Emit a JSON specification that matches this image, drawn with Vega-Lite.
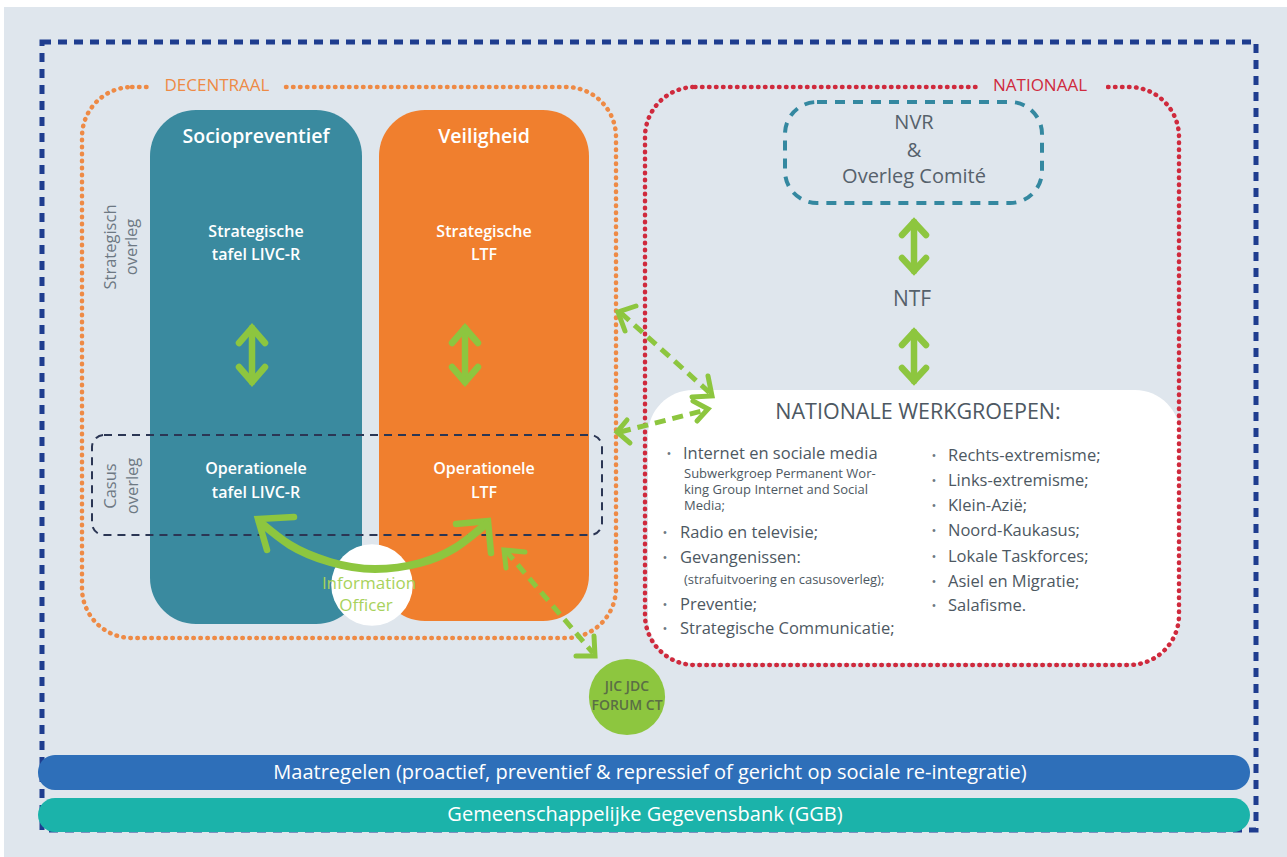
{
  "$schema": "https://vega.github.io/schema/vega-lite/v6.json",
  "autosize": {"type": "fit", "contains": "padding"},
  "width": 1287,
  "height": 857,
  "padding": 0,
  "background": "#ffffff",
  "config": {"view": {"stroke": null}, "font": "Open Sans"},
  "layer": [
    {
      "data": {"values": [{"x": 4, "x2": 1287, "y": 7, "y2": 857}]},
      "mark": {"type": "rect", "fill": "#dfe6ed"},
      "encoding": {
        "x": {"field": "x", "type": "quantitative", "scale": {"domain": [0, 1287], "nice": false, "zero": false}, "axis": null},
        "x2": {"field": "x2"},
        "y": {"field": "y", "type": "quantitative", "scale": {"domain": [0, 857], "reverse": true, "nice": false, "zero": false}, "axis": null},
        "y2": {"field": "y2"}
      }
    },
    {
      "data": {"values": [{"x": 42, "x2": 1256, "y": 42, "y2": 830}]},
      "mark": {"type": "rect", "fill": null, "stroke": "#1f3d8f", "strokeWidth": 5, "strokeDash": [9, 7]},
      "encoding": {
        "x": {"field": "x", "type": "quantitative", "axis": null},
        "x2": {"field": "x2"},
        "y": {"field": "y", "type": "quantitative", "axis": null},
        "y2": {"field": "y2"}
      }
    },
    {
      "data": {"values": [{"x": 648, "x2": 1180, "y": 390, "y2": 663}]},
      "mark": {"type": "rect", "fill": "#ffffff", "cornerRadius": 45},
      "encoding": {
        "x": {"field": "x", "type": "quantitative", "axis": null},
        "x2": {"field": "x2"},
        "y": {"field": "y", "type": "quantitative", "axis": null},
        "y2": {"field": "y2"}
      }
    },
    {
      "data": {"values": [{"x": 82, "x2": 616, "y": 87, "y2": 638}]},
      "mark": {"type": "rect", "fill": null, "stroke": "#ee8a45", "strokeWidth": 4.5, "strokeDash": [0.5, 6.5], "strokeCap": "round", "cornerRadius": 50},
      "encoding": {
        "x": {"field": "x", "type": "quantitative", "axis": null},
        "x2": {"field": "x2"},
        "y": {"field": "y", "type": "quantitative", "axis": null},
        "y2": {"field": "y2"}
      }
    },
    {
      "data": {"values": [{"x": 645, "x2": 1179, "y": 87, "y2": 665}]},
      "mark": {"type": "rect", "fill": null, "stroke": "#cf2a3d", "strokeWidth": 4.5, "strokeDash": [0.5, 6.5], "strokeCap": "round", "cornerRadius": 50},
      "encoding": {
        "x": {"field": "x", "type": "quantitative", "axis": null},
        "x2": {"field": "x2"},
        "y": {"field": "y", "type": "quantitative", "axis": null},
        "y2": {"field": "y2"}
      }
    },
    {
      "data": {"values": [{"x": 150, "x2": 282, "y": 78, "y2": 96}, {"x": 978, "x2": 1106, "y": 78, "y2": 96}]},
      "mark": {"type": "rect", "fill": "#dfe6ed"},
      "encoding": {
        "x": {"field": "x", "type": "quantitative", "axis": null},
        "x2": {"field": "x2"},
        "y": {"field": "y", "type": "quantitative", "axis": null},
        "y2": {"field": "y2"}
      }
    },
    {
      "data": {"values": [{"x": 150, "x2": 362, "y": 110, "y2": 624}]},
      "mark": {"type": "rect", "fill": "#3a8a9f", "cornerRadius": 46},
      "encoding": {
        "x": {"field": "x", "type": "quantitative", "axis": null},
        "x2": {"field": "x2"},
        "y": {"field": "y", "type": "quantitative", "axis": null},
        "y2": {"field": "y2"}
      }
    },
    {
      "data": {"values": [{"x": 379, "x2": 589, "y": 110, "y2": 621}]},
      "mark": {"type": "rect", "fill": "#f07f2e", "cornerRadius": 46},
      "encoding": {
        "x": {"field": "x", "type": "quantitative", "axis": null},
        "x2": {"field": "x2"},
        "y": {"field": "y", "type": "quantitative", "axis": null},
        "y2": {"field": "y2"}
      }
    },
    {
      "data": {"values": [{"x": 92, "x2": 602, "y": 435, "y2": 535}]},
      "mark": {"type": "rect", "fill": null, "stroke": "#2b3654", "strokeWidth": 2, "strokeDash": [8, 6], "cornerRadius": 12},
      "encoding": {
        "x": {"field": "x", "type": "quantitative", "axis": null},
        "x2": {"field": "x2"},
        "y": {"field": "y", "type": "quantitative", "axis": null},
        "y2": {"field": "y2"}
      }
    },
    {
      "data": {"values": [{"x": 785, "x2": 1042, "y": 102, "y2": 203}]},
      "mark": {"type": "rect", "fill": null, "stroke": "#3488a0", "strokeWidth": 4, "strokeDash": [10, 8], "cornerRadius": 32},
      "encoding": {
        "x": {"field": "x", "type": "quantitative", "axis": null},
        "x2": {"field": "x2"},
        "y": {"field": "y", "type": "quantitative", "axis": null},
        "y2": {"field": "y2"}
      }
    },
    {
      "data": {"values": [{"x": 38, "x2": 1250, "y": 755, "y2": 790}]},
      "mark": {"type": "rect", "fill": "#2e6fb9", "cornerRadius": 17},
      "encoding": {
        "x": {"field": "x", "type": "quantitative", "axis": null},
        "x2": {"field": "x2"},
        "y": {"field": "y", "type": "quantitative", "axis": null},
        "y2": {"field": "y2"}
      }
    },
    {
      "data": {"values": [{"x": 38, "x2": 1250, "y": 798, "y2": 832}]},
      "mark": {"type": "rect", "fill": "#1bb3aa", "cornerRadius": 17},
      "encoding": {
        "x": {"field": "x", "type": "quantitative", "axis": null},
        "x2": {"field": "x2"},
        "y": {"field": "y", "type": "quantitative", "axis": null},
        "y2": {"field": "y2"}
      }
    },
    {
      "data": {"values": [{"x": 372, "y": 585}]},
      "mark": {"type": "point", "filled": true, "fill": "#ffffff", "opacity": 1, "size": 6650, "shape": "circle", "strokeWidth": 0},
      "encoding": {
        "x": {"field": "x", "type": "quantitative", "axis": null},
        "y": {"field": "y", "type": "quantitative", "axis": null}
      }
    },
    {
      "data": {"values": [{"x": 627, "y": 697}]},
      "mark": {"type": "point", "filled": true, "fill": "#8dc63f", "opacity": 1, "size": 5800, "shape": "circle", "strokeWidth": 0},
      "encoding": {
        "x": {"field": "x", "type": "quantitative", "axis": null},
        "y": {"field": "y", "type": "quantitative", "axis": null}
      }
    },
    {
      "data": {"values": [
        {"g": "a1", "o": 1, "x": 252, "y": 328}, {"g": "a1", "o": 2, "x": 252, "y": 382},
        {"g": "a1t", "o": 1, "x": 239, "y": 343}, {"g": "a1t", "o": 2, "x": 252, "y": 328}, {"g": "a1t", "o": 3, "x": 265, "y": 343},
        {"g": "a1b", "o": 1, "x": 239, "y": 367}, {"g": "a1b", "o": 2, "x": 252, "y": 382}, {"g": "a1b", "o": 3, "x": 265, "y": 367},
        {"g": "a2", "o": 1, "x": 465, "y": 328}, {"g": "a2", "o": 2, "x": 465, "y": 382},
        {"g": "a2t", "o": 1, "x": 452, "y": 343}, {"g": "a2t", "o": 2, "x": 465, "y": 328}, {"g": "a2t", "o": 3, "x": 478, "y": 343},
        {"g": "a2b", "o": 1, "x": 452, "y": 367}, {"g": "a2b", "o": 2, "x": 465, "y": 382}, {"g": "a2b", "o": 3, "x": 478, "y": 367},
        {"g": "a3", "o": 1, "x": 914, "y": 222}, {"g": "a3", "o": 2, "x": 914, "y": 271},
        {"g": "a3t", "o": 1, "x": 902, "y": 235}, {"g": "a3t", "o": 2, "x": 914, "y": 222}, {"g": "a3t", "o": 3, "x": 926, "y": 235},
        {"g": "a3b", "o": 1, "x": 902, "y": 258}, {"g": "a3b", "o": 2, "x": 914, "y": 271}, {"g": "a3b", "o": 3, "x": 926, "y": 258},
        {"g": "a4", "o": 1, "x": 914, "y": 332}, {"g": "a4", "o": 2, "x": 914, "y": 381},
        {"g": "a4t", "o": 1, "x": 902, "y": 345}, {"g": "a4t", "o": 2, "x": 914, "y": 332}, {"g": "a4t", "o": 3, "x": 926, "y": 345},
        {"g": "a4b", "o": 1, "x": 902, "y": 368}, {"g": "a4b", "o": 2, "x": 914, "y": 381}, {"g": "a4b", "o": 3, "x": 926, "y": 368},
        {"g": "h1", "o": 1, "x": 267, "y": 550}, {"g": "h1", "o": 2, "x": 258, "y": 519}, {"g": "h1", "o": 3, "x": 294, "y": 517},
        {"g": "h2", "o": 1, "x": 456, "y": 524}, {"g": "h2", "o": 2, "x": 488, "y": 521}, {"g": "h2", "o": 3, "x": 491, "y": 553}
      ]},
      "mark": {"type": "line", "color": "#8dc63f", "strokeWidth": 6.5, "strokeCap": "round", "strokeJoin": "miter"},
      "encoding": {
        "x": {"field": "x", "type": "quantitative", "axis": null},
        "y": {"field": "y", "type": "quantitative", "axis": null},
        "detail": {"field": "g"},
        "order": {"field": "o", "type": "quantitative"}
      }
    },
    {
      "data": {"values": [
        {"o": 1, "x": 260, "y": 522}, {"o": 2, "x": 290, "y": 545}, {"o": 3, "x": 330, "y": 562},
        {"o": 4, "x": 375, "y": 569}, {"o": 5, "x": 420, "y": 563}, {"o": 6, "x": 455, "y": 548}, {"o": 7, "x": 486, "y": 524}
      ]},
      "mark": {"type": "line", "color": "#8dc63f", "strokeWidth": 8, "strokeCap": "round", "interpolate": "monotone"},
      "encoding": {
        "x": {"field": "x", "type": "quantitative", "axis": null},
        "y": {"field": "y", "type": "quantitative", "axis": null},
        "order": {"field": "o", "type": "quantitative"}
      }
    },
    {
      "data": {"values": [
        {"g": "d1", "o": 1, "x": 621, "y": 313}, {"g": "d1", "o": 2, "x": 710, "y": 393},
        {"g": "d2", "o": 1, "x": 620, "y": 432}, {"g": "d2", "o": 2, "x": 706, "y": 410},
        {"g": "d3", "o": 1, "x": 506, "y": 551}, {"g": "d3", "o": 2, "x": 593, "y": 653}
      ]},
      "mark": {"type": "line", "color": "#8dc63f", "strokeWidth": 5, "strokeDash": [11, 7]},
      "encoding": {
        "x": {"field": "x", "type": "quantitative", "axis": null},
        "y": {"field": "y", "type": "quantitative", "axis": null},
        "detail": {"field": "g"},
        "order": {"field": "o", "type": "quantitative"}
      }
    },
    {
      "data": {"values": [
        {"g": "e1", "o": 1, "x": 636, "y": 306}, {"g": "e1", "o": 2, "x": 618, "y": 312}, {"g": "e1", "o": 3, "x": 625, "y": 331},
        {"g": "e2", "o": 1, "x": 708, "y": 376}, {"g": "e2", "o": 2, "x": 712, "y": 396}, {"g": "e2", "o": 3, "x": 692, "y": 397},
        {"g": "e3", "o": 1, "x": 627, "y": 420}, {"g": "e3", "o": 2, "x": 617, "y": 432}, {"g": "e3", "o": 3, "x": 630, "y": 443},
        {"g": "e4", "o": 1, "x": 693, "y": 401}, {"g": "e4", "o": 2, "x": 708, "y": 409}, {"g": "e4", "o": 3, "x": 697, "y": 421},
        {"g": "e5", "o": 1, "x": 525, "y": 552}, {"g": "e5", "o": 2, "x": 504, "y": 550}, {"g": "e5", "o": 3, "x": 506, "y": 568},
        {"g": "e6", "o": 1, "x": 576, "y": 656}, {"g": "e6", "o": 2, "x": 595, "y": 656}, {"g": "e6", "o": 3, "x": 594, "y": 636}
      ]},
      "mark": {"type": "line", "color": "#8dc63f", "strokeWidth": 5, "strokeCap": "round"},
      "encoding": {
        "x": {"field": "x", "type": "quantitative", "axis": null},
        "y": {"field": "y", "type": "quantitative", "axis": null},
        "detail": {"field": "g"},
        "order": {"field": "o", "type": "quantitative"}
      }
    },
    {
      "data": {"values": [
        {"x": 256, "y": 137, "t": "Sociopreventief"},
        {"x": 484, "y": 137, "t": "Veiligheid"}
      ]},
      "mark": {"type": "text", "color": "#ffffff", "fontSize": 19.5, "fontWeight": 600, "align": "center", "baseline": "middle"},
      "encoding": {
        "x": {"field": "x", "type": "quantitative", "axis": null},
        "y": {"field": "y", "type": "quantitative", "axis": null},
        "text": {"field": "t"}
      }
    },
    {
      "data": {"values": [
        {"x": 256, "y": 232, "t": "Strategische"},
        {"x": 256, "y": 255, "t": "tafel LIVC-R"},
        {"x": 484, "y": 232, "t": "Strategische"},
        {"x": 484, "y": 255, "t": "LTF"},
        {"x": 256, "y": 469, "t": "Operationele"},
        {"x": 256, "y": 493, "t": "tafel LIVC-R"},
        {"x": 484, "y": 469, "t": "Operationele"},
        {"x": 484, "y": 493, "t": "LTF"}
      ]},
      "mark": {"type": "text", "color": "#ffffff", "fontSize": 16, "fontWeight": 600, "align": "center", "baseline": "middle"},
      "encoding": {
        "x": {"field": "x", "type": "quantitative", "axis": null},
        "y": {"field": "y", "type": "quantitative", "axis": null},
        "text": {"field": "t"}
      }
    },
    {
      "data": {"values": [
        {"x": 111, "y": 247, "t": "Strategisch"},
        {"x": 132, "y": 247, "t": "overleg"},
        {"x": 111, "y": 486, "t": "Casus"},
        {"x": 133, "y": 486, "t": "overleg"}
      ]},
      "mark": {"type": "text", "color": "#6d7883", "fontSize": 16.5, "angle": 270, "align": "center", "baseline": "middle"},
      "encoding": {
        "x": {"field": "x", "type": "quantitative", "axis": null},
        "y": {"field": "y", "type": "quantitative", "axis": null},
        "text": {"field": "t"}
      }
    },
    {
      "data": {"values": [{"x": 217, "y": 86, "t": "DECENTRAAL"}]},
      "mark": {"type": "text", "color": "#ee8a45", "fontSize": 17, "align": "center", "baseline": "middle"},
      "encoding": {
        "x": {"field": "x", "type": "quantitative", "axis": null},
        "y": {"field": "y", "type": "quantitative", "axis": null},
        "text": {"field": "t"}
      }
    },
    {
      "data": {"values": [{"x": 1040, "y": 86, "t": "NATIONAAL"}]},
      "mark": {"type": "text", "color": "#cf2a3d", "fontSize": 17, "align": "center", "baseline": "middle"},
      "encoding": {
        "x": {"field": "x", "type": "quantitative", "axis": null},
        "y": {"field": "y", "type": "quantitative", "axis": null},
        "text": {"field": "t"}
      }
    },
    {
      "data": {"values": [
        {"x": 914, "y": 123, "t": "NVR"},
        {"x": 914, "y": 151, "t": "&"},
        {"x": 914, "y": 177, "t": "Overleg Comité"}
      ]},
      "mark": {"type": "text", "color": "#56616b", "fontSize": 20, "align": "center", "baseline": "middle"},
      "encoding": {
        "x": {"field": "x", "type": "quantitative", "axis": null},
        "y": {"field": "y", "type": "quantitative", "axis": null},
        "text": {"field": "t"}
      }
    },
    {
      "data": {"values": [{"x": 912, "y": 300, "t": "NTF"}]},
      "mark": {"type": "text", "color": "#56616b", "fontSize": 21, "align": "center", "baseline": "middle"},
      "encoding": {
        "x": {"field": "x", "type": "quantitative", "axis": null},
        "y": {"field": "y", "type": "quantitative", "axis": null},
        "text": {"field": "t"}
      }
    },
    {
      "data": {"values": [{"x": 918, "y": 413, "t": "NATIONALE WERKGROEPEN:"}]},
      "mark": {"type": "text", "color": "#4d5862", "fontSize": 21.5, "align": "center", "baseline": "middle"},
      "encoding": {
        "x": {"field": "x", "type": "quantitative", "axis": null},
        "y": {"field": "y", "type": "quantitative", "axis": null},
        "text": {"field": "t"}
      }
    },
    {
      "data": {"values": [
        {"x": 683, "y": 454, "t": "Internet en sociale media"},
        {"x": 680, "y": 533, "t": "Radio en televisie;"},
        {"x": 680, "y": 558, "t": "Gevangenissen:"},
        {"x": 680, "y": 605, "t": "Preventie;"},
        {"x": 680, "y": 629, "t": "Strategische Communicatie;"},
        {"x": 948, "y": 456, "t": "Rechts-extremisme;"},
        {"x": 948, "y": 481, "t": "Links-extremisme;"},
        {"x": 948, "y": 506, "t": "Klein-Azië;"},
        {"x": 948, "y": 531, "t": "Noord-Kaukasus;"},
        {"x": 948, "y": 557, "t": "Lokale Taskforces;"},
        {"x": 948, "y": 582, "t": "Asiel en Migratie;"},
        {"x": 948, "y": 606, "t": "Salafisme."}
      ]},
      "mark": {"type": "text", "color": "#4d5862", "fontSize": 16.5, "align": "left", "baseline": "middle"},
      "encoding": {
        "x": {"field": "x", "type": "quantitative", "axis": null},
        "y": {"field": "y", "type": "quantitative", "axis": null},
        "text": {"field": "t"}
      }
    },
    {
      "data": {"values": [
        {"x": 684, "y": 474, "t": "Subwerkgroep Permanent Wor-"},
        {"x": 684, "y": 490, "t": "king Group Internet and Social"},
        {"x": 684, "y": 506, "t": "Media;"},
        {"x": 684, "y": 580, "t": "(strafuitvoering en casusoverleg);"}
      ]},
      "mark": {"type": "text", "color": "#4d5862", "fontSize": 13, "align": "left", "baseline": "middle"},
      "encoding": {
        "x": {"field": "x", "type": "quantitative", "axis": null},
        "y": {"field": "y", "type": "quantitative", "axis": null},
        "text": {"field": "t"}
      }
    },
    {
      "data": {"values": [
        {"x": 669, "y": 454}, {"x": 665, "y": 533}, {"x": 665, "y": 558}, {"x": 665, "y": 605}, {"x": 665, "y": 629},
        {"x": 934, "y": 456}, {"x": 934, "y": 481}, {"x": 934, "y": 506}, {"x": 934, "y": 531}, {"x": 934, "y": 557}, {"x": 934, "y": 582}, {"x": 934, "y": 606}
      ]},
      "mark": {"type": "text", "color": "#6d7883", "fontSize": 13, "align": "center", "baseline": "middle", "text": "•"},
      "encoding": {
        "x": {"field": "x", "type": "quantitative", "axis": null},
        "y": {"field": "y", "type": "quantitative", "axis": null}
      }
    },
    {
      "data": {"values": [
        {"x": 369, "y": 584, "t": "Information"},
        {"x": 366, "y": 606, "t": "Officer"}
      ]},
      "mark": {"type": "text", "color": "#a8d25c", "fontSize": 17, "align": "center", "baseline": "middle"},
      "encoding": {
        "x": {"field": "x", "type": "quantitative", "axis": null},
        "y": {"field": "y", "type": "quantitative", "axis": null},
        "text": {"field": "t"}
      }
    },
    {
      "data": {"values": [
        {"x": 627, "y": 687, "t": "JIC JDC"},
        {"x": 627, "y": 706, "t": "FORUM CT"}
      ]},
      "mark": {"type": "text", "color": "#5a6e45", "fontSize": 14, "fontWeight": 600, "align": "center", "baseline": "middle"},
      "encoding": {
        "x": {"field": "x", "type": "quantitative", "axis": null},
        "y": {"field": "y", "type": "quantitative", "axis": null},
        "text": {"field": "t"}
      }
    },
    {
      "data": {"values": [
        {"x": 650, "y": 773, "t": "Maatregelen (proactief, preventief & repressief of gericht op sociale re-integratie)"},
        {"x": 645, "y": 815, "t": "Gemeenschappelijke Gegevensbank (GGB)"}
      ]},
      "mark": {"type": "text", "color": "#ffffff", "fontSize": 20, "align": "center", "baseline": "middle"},
      "encoding": {
        "x": {"field": "x", "type": "quantitative", "axis": null},
        "y": {"field": "y", "type": "quantitative", "axis": null},
        "text": {"field": "t"}
      }
    }
  ]
}
